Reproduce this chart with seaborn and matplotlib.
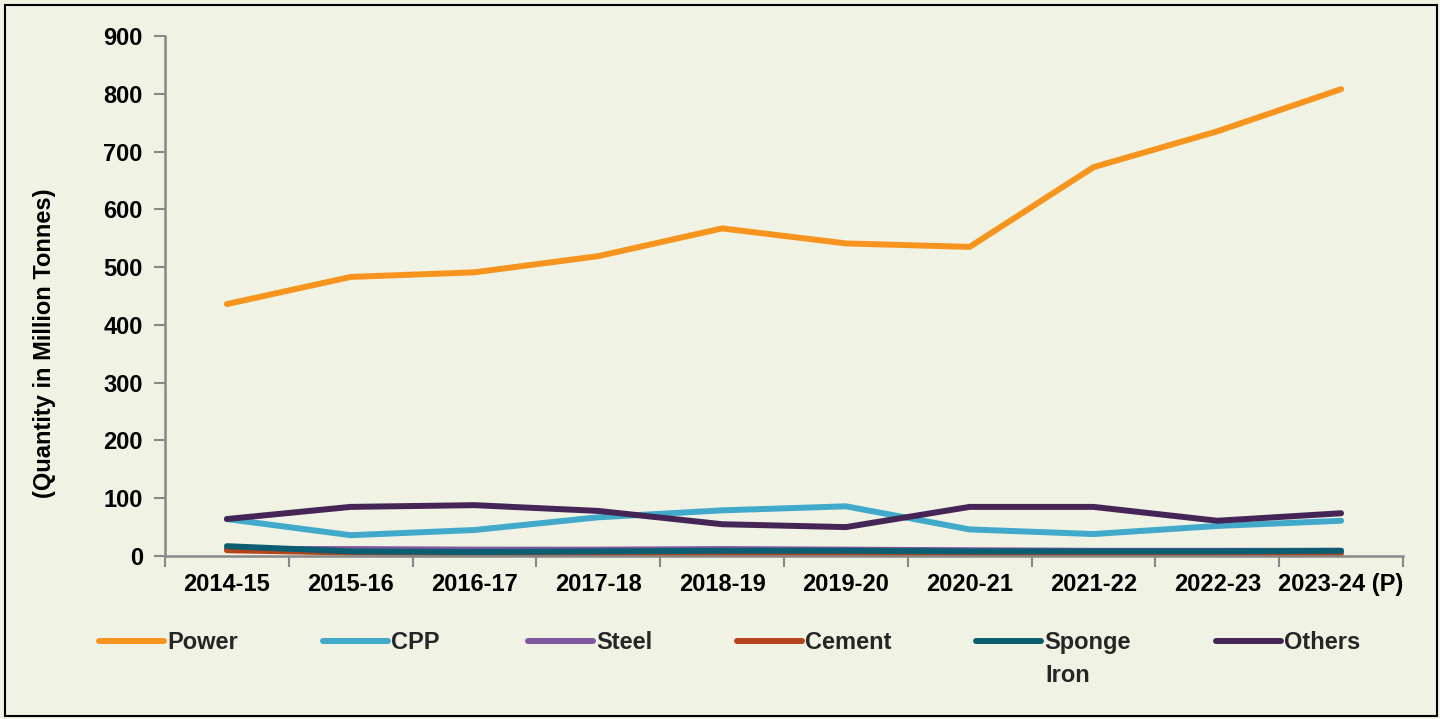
import numpy as np
import pandas as pd
import matplotlib
matplotlib.use("Agg")
import matplotlib.pyplot as plt
from matplotlib.patches import Rectangle
import seaborn as sns

# data (million tonnes)
years = ["2014-15", "2015-16", "2016-17", "2017-18", "2018-19",
         "2019-20", "2020-21", "2021-22", "2022-23", "2023-24 (P)"]
power = [436, 483, 491, 519, 567, 541, 535, 673, 735, 808]
cpp = [64, 36, 45, 67, 79, 86, 46, 38, 52, 61]
steel = [12, 12, 11, 11, 12, 11, 10, 9, 9, 9]
cement = [10, 6, 5, 4, 4, 4, 3, 3, 4, 5]
sponge_iron = [17, 8, 7, 8, 9, 9, 8, 8, 8, 9]
others = [64, 85, 88, 78, 55, 50, 85, 85, 61, 74]

series = {"Power": power, "CPP": cpp, "Steel": steel, "Cement": cement,
          "Sponge Iron": sponge_iron, "Others": others}
colors = {"Power": "#F7941D", "CPP": "#41A9C9", "Steel": "#8057A0",
          "Cement": "#B5441A", "Sponge Iron": "#0B5E72", "Others": "#452556"}

df = pd.DataFrame([(y, k, v) for k, vals in series.items() for y, v in zip(years, vals)],
                  columns=["Year", "Sector", "Value"])

bg = "#F0F2E4"
sns.set_theme(style="white")
plt.rcParams["font.family"] = ["Liberation Sans", "DejaVu Sans"]
plt.rcParams["font.weight"] = "bold"

fig = plt.figure(figsize=(14.4, 7.19), dpi=100, facecolor=bg)
ax = fig.add_axes([165 / 1440, 1 - 556 / 719, (1403 - 165) / 1440, (556 - 36) / 719])
ax.set_facecolor(bg)

sns.lineplot(data=df, x="Year", y="Value", hue="Sector", palette=colors,
             hue_order=list(series.keys()), linewidth=4.3, ax=ax, legend=False,
             sort=False)
for ln in ax.get_lines():
    ln.set_solid_capstyle("round")
    ln.set_solid_joinstyle("round")

ax.set_xlim(-0.5, len(years) - 0.5)
ax.set_ylim(0, 900)
ax.set_yticks(np.arange(0, 901, 100))
ax.set_xticks(range(len(years)))
ax.set_xticklabels(years)
ax.set_xticks(np.arange(-0.5, len(years), 1.0), minor=True)
ax.tick_params(axis="x", which="major", length=0, pad=12, labelsize=17)
ax.tick_params(axis="x", which="minor", length=8, width=1.5, color="#888888", bottom=True)
ax.tick_params(axis="y", length=8, width=1.5, color="#888888", left=True, pad=8, labelsize=17)
for t in ax.get_xticklabels() + ax.get_yticklabels():
    t.set_fontweight("bold")
    t.set_color("black")

sns.despine(ax=ax)
for s in ["left", "bottom"]:
    ax.spines[s].set_color("#888888")
    ax.spines[s].set_linewidth(1.8)

ax.set_xlabel("")
ax.set_ylabel("(Quantity in Million Tonnes)", fontsize=17, fontweight="bold",
              color="black")
ax.yaxis.set_label_coords(-0.088, 0.41)

# legend entries in fixed slots like the original
slots = [98, 322, 527, 736, 975, 1215]
handles = ax.get_lines()[:len(series)]
legend_y = 1 - 622 / 719
for h, lab, xs in zip(handles, series.keys(), slots):
    first = lab.split(" ")[0]
    leg = fig.legend([h], [first], loc="upper left",
                     bbox_to_anchor=(xs / 1440 - 0.006, legend_y),
                     frameon=False, handlelength=2.75, handletextpad=0.15,
                     prop={"size": 17, "weight": "bold"}, borderaxespad=0)
    for l in leg.get_lines():
        l.set_linewidth(4.3)
        l.set_solid_capstyle("round")
    if " " in lab:
        # wrapped second line of the label, as in the original
        fig.text((xs + 70) / 1440, 1 - 675 / 719, lab.split(" ", 1)[1],
                 fontsize=17, fontweight="bold", va="center", ha="left")

fig.patches.append(Rectangle((5 / 1440, 3 / 719), 1432 / 1440, 711 / 719,
                             transform=fig.transFigure, fill=False,
                             edgecolor="black", linewidth=1.5))

fig.savefig("out.png", dpi=100, facecolor=bg)
